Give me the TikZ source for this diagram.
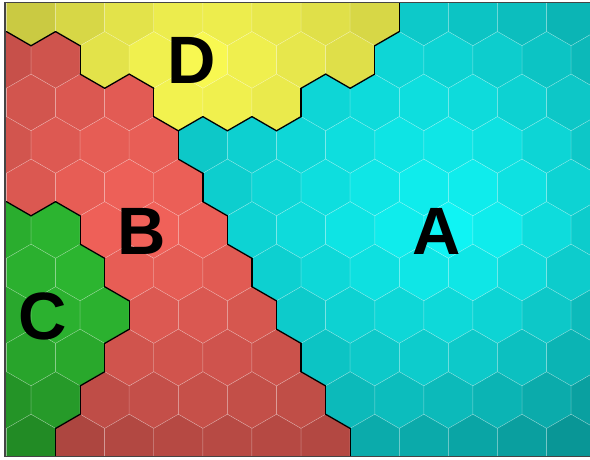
\documentclass[tikz,border=0pt]{standalone}
\usepackage{fontspec}
\setmainfont{Liberation Sans}
\usepackage{tikz}
\usepackage{xcolor}
\definecolor{frameGray}{HTML}{454545}

\tikzset{
  hexcell/.style={draw=white, draw opacity=0.3, line width=0.5pt},
  regionborder/.style={draw=black, line width=1.3pt, line cap=round},
  frameline/.style={draw=frameGray, line width=1.4pt},
  regionlabel/.style={font=\fontsize{67}{67}\selectfont\bfseries, inner sep=0pt}
}

% hex grid (pointy top): width, side, half width, half side, row step
\def\hexw{49.1}
\def\hexs{28.35}
\def\hexhalf{24.55}
\def\hexq{14.175}
\def\rowh{42.52}

% region of each cell, 13 per row: 0 = A, 1 = B, 2 = C, 3 = D
\def\regionmap{{3,3,3,3,3,3,3,3,0,0,0,0,0,
1,1,3,3,3,3,3,3,0,0,0,0,0,
1,1,1,3,3,3,0,0,0,0,0,0,0,
1,1,1,1,0,0,0,0,0,0,0,0,0,
1,1,1,1,0,0,0,0,0,0,0,0,0,
2,2,1,1,1,0,0,0,0,0,0,0,0,
2,2,1,1,1,0,0,0,0,0,0,0,0,
2,2,2,1,1,1,0,0,0,0,0,0,0,
2,2,1,1,1,1,0,0,0,0,0,0,0,
2,2,1,1,1,1,1,0,0,0,0,0,0,
2,1,1,1,1,1,1,0,0,0,0,0,0}}

% shading per region: light point, falloff, brightest colour
\def\seedx{{448,142,45,191}}
\def\seedy{{230,231,316,60}}
\def\falloff{{0.0007,0.00045,0.0006,0.00065}}
\def\baseR{{16,242,48,250}}
\def\baseG{{245,98,195,250}}
\def\baseB{{245,90,52,82}}

\begin{document}
\begin{tikzpicture}[x=1pt, y=-1pt]
    \useasboundingbox (0,0) rectangle (590,459);

    \begin{scope}
    \clip (5,3.2) rectangle (600,456.8);

    % Hex cells
    \foreach \r in {0,...,10}{
      \foreach \c in {0,...,12}{
        \pgfmathsetmacro\cx{(mod(\r,2)==1 ? 6.5 : 31) + \hexw*\c}
        \pgfmathsetmacro\cy{17.4 + \rowh*\r}
        \pgfmathtruncatemacro\reg{\regionmap[\r*13+\c]}
        \pgfmathsetmacro\shade{max(0.45, 1 - \falloff[\reg]*veclen(\cx-\seedx[\reg], \cy-\seedy[\reg]) - 0.0006*max(0, veclen(\cx-295, \cy-230)-200) - 0.0006*max(0, \cy-230))}
        \pgfmathtruncatemacro\cellR{\baseR[\reg]*\shade}
        \pgfmathtruncatemacro\cellG{\baseG[\reg]*\shade}
        \pgfmathtruncatemacro\cellB{\baseB[\reg]*\shade}
        \definecolor{cellfill}{RGB}{\cellR,\cellG,\cellB}
        \path[hexcell, fill=cellfill] (\cx,\cy) +(30:\hexs) -- +(90:\hexs) -- +(150:\hexs) -- +(210:\hexs) -- +(270:\hexs) -- +(330:\hexs) -- cycle;
      }
    }

    % Region borders
    \foreach \r in {0,...,10}{
      \foreach \c in {0,...,12}{
        \pgfmathsetmacro\cx{(mod(\r,2)==1 ? 6.5 : 31) + \hexw*\c}
        \pgfmathsetmacro\cy{17.4 + \rowh*\r}
        \pgfmathtruncatemacro\reg{\regionmap[\r*13+\c]}
        % right neighbour
        \ifnum\c<12
          \pgfmathtruncatemacro\nb{\regionmap[\r*13+\c+1]}
          \ifnum\nb=\reg\else
            \draw[regionborder] (\cx+\hexhalf,\cy-\hexq) -- (\cx+\hexhalf,\cy+\hexq);
          \fi
        \fi
        % lower neighbours
        \ifnum\r<10
          \pgfmathtruncatemacro\lc{mod(\r,2)==1 ? \c-1 : \c}
          \pgfmathtruncatemacro\rc{\lc+1}
          \ifnum\lc>-1
            \pgfmathtruncatemacro\nb{\regionmap[(\r+1)*13+\lc]}
            \ifnum\nb=\reg\else
              \draw[regionborder] (\cx-\hexhalf,\cy+\hexq) -- (\cx,\cy+\hexs);
            \fi
          \fi
          \ifnum\rc<13
            \pgfmathtruncatemacro\nb{\regionmap[(\r+1)*13+\rc]}
            \ifnum\nb=\reg\else
              \draw[regionborder] (\cx,\cy+\hexs) -- (\cx+\hexhalf,\cy+\hexq);
            \fi
          \fi
        \fi
      }
    }
    \end{scope}

    % Labels
    \node[regionlabel] (labA) at (436.7,231) {A};
    \node[regionlabel] (labB) at (141.7,231.7) {B};
    \node[regionlabel] (labC) at (43,316) {C};
    \node[regionlabel] (labD) at (191.5,60) {D};

    % Frame
    \draw[frameline] (600,2.4) -- (5,2.4) -- (5,456.3) -- (600,456.3);
\end{tikzpicture}
\end{document}
